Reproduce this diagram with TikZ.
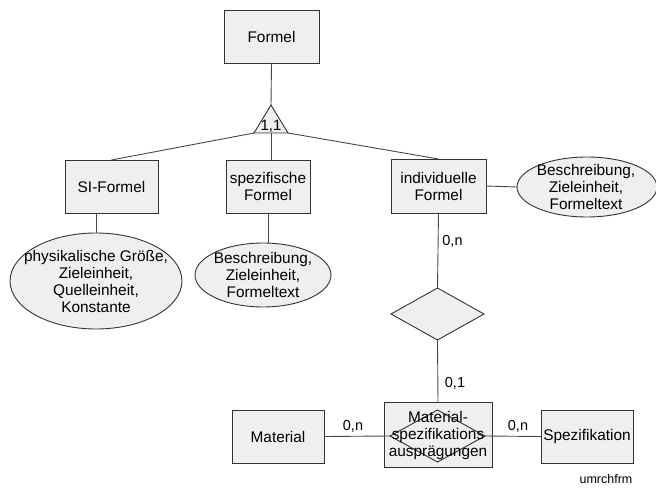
\documentclass[tikz,border=0pt]{standalone}
\usepackage{fontspec}
\setmainfont{Liberation Sans}
\usetikzlibrary{shapes.geometric}

\definecolor{boxfill}{RGB}{239,239,239}
\definecolor{edgecol}{RGB}{50,50,50}
\definecolor{linkcol}{RGB}{70,70,70}

\tikzset{
  every node/.style={font=\fontsize{15.4}{17}\selectfont, inner sep=0pt, outer sep=0pt},
  entity/.style={draw=edgecol, fill=boxfill, line width=0.9pt, rectangle, align=center},
  attr/.style={draw=edgecol, fill=boxfill, line width=0.9pt, ellipse},
  rel/.style={draw=edgecol, fill=boxfill, line width=0.9pt, diamond},
  txt/.style={align=center},
  card/.style={font=\fontsize{14.5}{16}\selectfont, anchor=base},
  link/.style={draw=linkcol, line width=0.9pt},
}

\begin{document}
\begin{tikzpicture}[x=1pt, y=-1pt]
\useasboundingbox (0,0) rectangle (656,489);

% entity boxes
\node[entity, minimum width=95, minimum height=53] (formel) at (271.5,36.5) {Formel};
\node[entity, minimum width=93, minimum height=53] (si) at (111.5,186.5) {SI-Formel};
\node[entity, minimum width=84, minimum height=53] (spez) at (268,186.5) {spezifische\\Formel};
\node[entity, minimum width=95, minimum height=54] (indiv) at (438.5,186) {individuelle\\Formel};
\node[entity, minimum width=92, minimum height=53] (material) at (278,436.5) {Material};
\node[entity, minimum width=92, minimum height=53] (spezif) at (587,436.5) {Spezifikation};

% relationship entity: box with diamond inside
\node[entity, minimum width=108, minimum height=65] (mspec) at (438,434.5) {};
\node[rel, fill=none, minimum width=95, minimum height=52] (mspecd) at (437.5,436) {};
\node[txt] (mspectext) at (438,436) {Material-\\spezifikations\\ausprägungen};

% relationship diamond
\node[rel, minimum width=93, minimum height=52] (relation) at (437.5,314) {};

% attribute ellipses
\node[attr, minimum width=172, minimum height=96] (siattr) at (96,281) {};
\node[txt] (siattrtext) at (96,281) {physikalische Größe,\\Zieleinheit,\\Quelleinheit,\\Konstante};
\node[attr, minimum width=136, minimum height=64] (spezattr) at (263,275) {};
\node[txt] (spezattrtext) at (263,275) {Beschreibung,\\Zieleinheit,\\Formeltext};
\node[attr, minimum width=140, minimum height=60] (indattr) at (587,187) {};
\node[txt] (indattrtext) at (586,187) {Beschreibung,\\Zieleinheit,\\Formeltext};

% generalisation triangle
\coordinate (isatop) at (271,105);
\coordinate (isal) at (254,133);
\coordinate (isar) at (288,133);
\coordinate (isab) at (271,133);
\draw[draw=edgecol, fill=boxfill, line width=0.9pt] (isatop) -- (isal) -- (isar) -- cycle;
\node[card, font=\fontsize{15}{16}\selectfont] (isalabel) at (271,131) {1,1};

% connectors
\draw[link] (formel.south) -- (isatop);
\draw[link] (isal) -- (si.north);
\draw[link] (isar) -- (indiv.north);
\draw[link] (isab) -- (isab |- spez.north);
\draw[link] (siattr.north |- si.south) -- (siattr.north);
\draw[link] (spez.south) -- (spez.south |- spezattr.north);
\draw[link] (indiv.east) -- (indattr.west);
\draw[link] (indiv.south) -- (relation.north);
\draw[link] (relation.south) -- (mspec.north);
\draw[link] (material.east) -- (mspecd.west);
\draw[link] (mspecd.east) -- (spezif.west);

% cardinalities
\node[card] (c1) at (452.5,245) {0,n};
\node[card] (c2) at (455,387) {0,1};
\node[card] (c3) at (353,430) {0,n};
\node[card] (c4) at (518,430) {0,n};

% figure tag
\node[font=\fontsize{12.5}{14}\selectfont, anchor=base] (tag) at (606,483) {umrchfrm};
\end{tikzpicture}
\end{document}
